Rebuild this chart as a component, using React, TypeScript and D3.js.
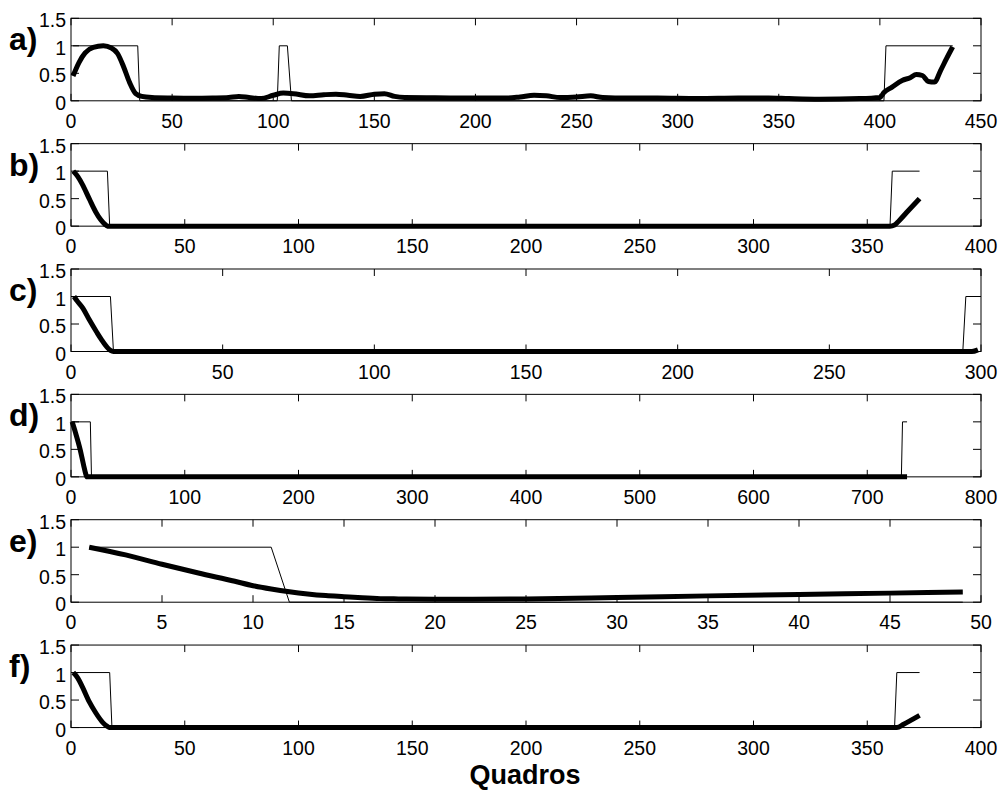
import React from "react";
import * as d3 from "d3";

type P = [number, number];

// Panel letters
const panelLabels = ["a)", "b)", "c)", "d)", "e)", "f)"];
// X domains and tick steps
const xMax = [450, 400, 300, 800, 50, 400];
const xStep = [50, 50, 50, 100, 5, 50];
const yTicks = [0, 0.5, 1, 1.5];

// Ground-truth (thin) step series
const truthA: P[] = [[1, 1], [33, 1], [34, 0], [102, 0], [103, 1], [107, 1], [109, 0], [402, 0], [403, 1], [436, 1]];
const truthB: P[] = [[1, 1], [16, 1], [17, 0], [360, 0], [361, 1], [373, 1]];
const truthC: P[] = [[1, 1], [13, 1], [14, 0], [294, 0], [295, 1], [300, 1]];
const truthD: P[] = [[1, 1], [17, 1], [18, 0], [730, 0], [731, 1], [735, 1]];
const truthE: P[] = [[1, 1], [11, 1], [12, 0], [49, 0]];
const truthF: P[] = [[1, 1], [17, 1], [18, 0], [362, 0], [363, 1], [373, 1]];

// Estimated (thick) series
const estA: P[] = [
  [1, 0.45], [4, 0.7], [7, 0.87], [11, 0.97], [16, 1.0], [20, 0.96], [23, 0.86], [26, 0.62], [29, 0.33],
  [32, 0.13], [35, 0.08], [40, 0.06], [50, 0.05], [60, 0.045], [70, 0.05], [78, 0.06], [83, 0.08], [88, 0.06],
  [94, 0.04], [100, 0.1], [105, 0.14], [110, 0.13], [118, 0.09], [125, 0.11], [131, 0.12], [137, 0.1],
  [143, 0.08], [150, 0.12], [155, 0.13], [160, 0.08], [165, 0.06], [180, 0.055], [200, 0.05], [215, 0.05],
  [222, 0.07], [229, 0.1], [235, 0.09], [242, 0.06], [250, 0.07], [257, 0.09], [263, 0.06], [275, 0.05],
  [290, 0.05], [310, 0.04], [330, 0.05], [345, 0.05], [355, 0.04], [370, 0.03], [390, 0.04], [400, 0.06],
  [402, 0.15], [406, 0.25], [411, 0.37], [415, 0.42], [418, 0.48], [421, 0.46], [424, 0.35], [427, 0.34],
  [430, 0.55], [433, 0.77], [436, 0.98],
];
const estB: P[] = [[1, 1], [3, 0.9], [5, 0.76], [8, 0.5], [11, 0.25], [13, 0.12], [15, 0.03], [16, 0], [360, 0], [362, 0.02], [364, 0.1], [368, 0.28], [373, 0.5]];
const estC: P[] = [[1, 1], [2, 0.92], [4, 0.78], [6, 0.58], [8.5, 0.35], [10, 0.22], [12, 0.07], [13, 0.02], [14, 0], [297, 0], [299, 0.03]];
const estD: P[] = [[1, 1], [4, 0.8], [8, 0.5], [11, 0.22], [13, 0.05], [14, 0], [735, 0]];
const estE: P[] = [
  [1, 1.0], [3, 0.86], [5, 0.69], [7, 0.53], [9, 0.38], [10, 0.3], [11, 0.24], [12, 0.19], [13, 0.15],
  [14, 0.12], [15, 0.1], [16, 0.08], [17, 0.065], [18, 0.06], [20, 0.055], [22, 0.055], [25, 0.06],
  [30, 0.085], [35, 0.115], [40, 0.14], [45, 0.165], [49, 0.185],
];
const estF: P[] = [[1, 1], [3, 0.9], [5, 0.74], [8, 0.47], [11, 0.26], [14, 0.09], [16, 0.02], [17, 0], [363, 0], [366, 0.06], [373, 0.22]];

const truths = [truthA, truthB, truthC, truthD, truthE, truthF];
const ests = [estA, estB, estC, estD, estE, estF];

const xAxisLabel = "Quadros";

const LEFT = 71;
const RIGHT = 981;
const TOP0 = 18.3;
const GAP = 125.35;
const H = 82.5;
const FONT = "'Liberation Sans', Arial, Helvetica, sans-serif";

function Panel({ i }: { i: number }) {
  const top = TOP0 + i * GAP;
  const bottom = top + H;
  const x = d3.scaleLinear().domain([0, xMax[i]]).range([LEFT, RIGHT]);
  const y = d3.scaleLinear().domain([0, 1.5]).range([bottom, top]);
  const xt = d3.range(0, xMax[i] + 1e-9, xStep[i]);
  const thin = d3.line<P>().x((d) => x(d[0])).y((d) => y(d[1]));
  const thick = d3
    .line<P>()
    .x((d) => x(d[0]))
    .y((d) => y(d[1]))
    .curve(d3.curveMonotoneX);
  return (
    <g>
      {xt.map((t) => (
        <g key={"x" + t}>
          <line x1={x(t)} x2={x(t)} y1={bottom} y2={bottom - 7} stroke="#000" strokeWidth={1} />
          <line x1={x(t)} x2={x(t)} y1={top} y2={top + 7} stroke="#000" strokeWidth={1} />
          <text x={x(t)} y={bottom + 27} textAnchor="middle" fontSize={19.5} fontFamily={FONT}>
            {t}
          </text>
        </g>
      ))}
      {yTicks.map((t) => (
        <g key={"y" + t}>
          <line x1={LEFT} x2={LEFT + 8} y1={y(t)} y2={y(t)} stroke="#000" strokeWidth={1} />
          <line x1={RIGHT} x2={RIGHT - 8} y1={y(t)} y2={y(t)} stroke="#000" strokeWidth={1} />
          <text x={66} y={y(t) + 9} textAnchor="end" fontSize={19.5} fontFamily={FONT}>
            {t}
          </text>
        </g>
      ))}
      <rect x={LEFT} y={top} width={RIGHT - LEFT} height={H} fill="none" stroke="#000" strokeWidth={1} />
      <path d={thin(truths[i]) || ""} fill="none" stroke="#000" strokeWidth={1} />
      <path d={thick(ests[i]) || ""} fill="none" stroke="#000" strokeWidth={5} strokeLinejoin="round" />
      <text x={9} y={top + 32} fontSize={32} fontWeight="bold" fontFamily={FONT}>
        {panelLabels[i]}
      </text>
    </g>
  );
}

export default function App() {
  return (
    <svg
      width={1000}
      height={794}
      style={{ position: "absolute", left: 0, top: 0, background: "#fff" }}
    >
      <rect x={0} y={0} width={1000} height={794} fill="#fff" />
      {panelLabels.map((_, i) => (
        <Panel key={i} i={i} />
      ))}
      <text x={525} y={784} textAnchor="middle" fontSize={27} fontWeight="bold" fontFamily={FONT}>
        {xAxisLabel}
      </text>
    </svg>
  );
}
